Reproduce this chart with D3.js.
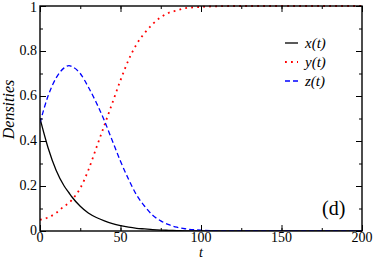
<!DOCTYPE html>
<html>
<head>
<meta charset="utf-8">
<script src="https://cdn.jsdelivr.net/npm/d3@7"></script>
<style>
body { margin: 0; background: #fff; }
svg text { font-family: 'Liberation Serif', 'Times New Roman', 'DejaVu Serif', serif; }
</style>
</head>
<body>
<svg width="374" height="261"></svg>
<script>
// values
var tVals = [0, 5, 10, 15, 18, 20, 25, 30, 35, 40, 45, 50, 55, 60, 65, 70, 75, 80, 85, 90, 100, 110, 120, 150, 200]
var xVals = [0.5, 0.37, 0.27, 0.2, 0.17, 0.15, 0.11, 0.08, 0.06, 0.045, 0.033, 0.024, 0.017, 0.012, 0.009, 0.006, 0.004, 0.003, 0.002, 0.001, 0.0005, 0, 0, 0, 0]
var yVals = [0.05, 0.06, 0.08, 0.11, 0.125, 0.14, 0.19, 0.27, 0.37, 0.47, 0.57, 0.67, 0.76, 0.83, 0.88, 0.92, 0.95, 0.97, 0.98, 0.99, 0.996, 0.999, 1, 1, 1]
var zVals = [0.48, 0.6, 0.68, 0.725, 0.735, 0.73, 0.7, 0.64, 0.57, 0.49, 0.4, 0.31, 0.23, 0.16, 0.11, 0.07, 0.045, 0.028, 0.017, 0.01, 0.004, 0.001, 0, 0, 0]
var seriesNames = ['x(t)', 'y(t)', 'z(t)']
var xTicks = [0, 50, 100, 150, 200]
var yTicks = [0, 0.2, 0.4, 0.6, 0.8, 1]

var svg = d3.select('svg')
var m = {left: 40, right: 12, top: 6, bottom: 30}
var W = 374, H = 261
var x = d3.scaleLinear().domain([0, 200]).range([m.left, W - m.right])
var y = d3.scaleLinear().domain([0, 1]).range([H - m.bottom, m.top])

var styles = [
  {color: '#000', dash: null, width: 1.3},
  {color: '#ff0000', dash: '1.8,4.2', width: 1.8},
  {color: '#0000ff', dash: '5,3', width: 1.3}
]
var all = [xVals, yVals, zVals]

var clip = svg.append('clipPath').attr('id', 'c').append('rect')
  .attr('x', x(0)).attr('y', y(1) - 2).attr('width', x(200) - x(0)).attr('height', y(0) - y(1) + 2)

var line = d3.line()
  .x(function(d) { return x(d[0]) })
  .y(function(d) { return y(d[1]) })
  .curve(d3.curveMonotoneX)

all.forEach(function(vals, i) {
  svg.append('path')
    .datum(tVals.map(function(t, j) { return [t, vals[j]] }))
    .attr('d', line)
    .attr('fill', 'none')
    .attr('stroke', styles[i].color)
    .attr('stroke-width', styles[i].width)
    .attr('stroke-dasharray', styles[i].dash)
    .attr('clip-path', 'url(#c)')
})

// axes with inward ticks on all sides
function tickAxes(axis, tr, size) {
  svg.append('g').attr('transform', tr).call(axis.tickSize(size).tickFormat(''))
    .call(function(g) { g.select('.domain').remove() })
}
var b = y(0), t = y(1), l = x(0), r = x(200)
tickAxes(d3.axisBottom(x).tickValues(d3.range(0, 201, 25)), 'translate(0,' + b + ')', -3)
tickAxes(d3.axisBottom(x).tickValues(xTicks), 'translate(0,' + b + ')', -6)
tickAxes(d3.axisTop(x).tickValues(d3.range(0, 201, 25)), 'translate(0,' + t + ')', -3)
tickAxes(d3.axisTop(x).tickValues(xTicks), 'translate(0,' + t + ')', -6)
tickAxes(d3.axisLeft(y).tickValues(d3.range(0, 1.01, 0.1)), 'translate(' + l + ',0)', -3)
tickAxes(d3.axisLeft(y).tickValues(yTicks), 'translate(' + l + ',0)', -6)
tickAxes(d3.axisRight(y).tickValues(d3.range(0, 1.01, 0.1)), 'translate(' + r + ',0)', -3)
tickAxes(d3.axisRight(y).tickValues(yTicks), 'translate(' + r + ',0)', -6)
svg.selectAll('.tick line').attr('stroke', '#000').attr('stroke-width', 1)

svg.append('rect').attr('x', l).attr('y', t).attr('width', r - l).attr('height', b - t)
  .attr('fill', 'none').attr('stroke', '#000').attr('stroke-width', 1.4)

// tick labels
svg.selectAll('.xl').data(xTicks).enter().append('text')
  .attr('x', function(d) { return x(d) }).attr('y', b + 11)
  .attr('text-anchor', 'middle').attr('font-size', 14)
  .text(function(d) { return d })
svg.selectAll('.yl').data(yTicks).enter().append('text')
  .attr('x', l - 3).attr('y', function(d) { return d == 1 ? y(d) + 6 : y(d) + 4 })
  .attr('text-anchor', 'end').attr('font-size', 14)
  .text(function(d) { return d == 0 ? '0' : d == 1 ? '1' : d3.format('.1f')(d) })

svg.append('text').attr('x', x(100)).attr('y', 257).attr('text-anchor', 'middle')
  .attr('font-size', 14).attr('font-style', 'italic').text('t')
svg.append('text').attr('transform', 'translate(14,' + y(0.54) + ') rotate(-90)')
  .attr('text-anchor', 'middle').attr('font-size', 16)
  .attr('font-style', 'italic').text('Densities')

svg.append('text').attr('x', 322).attr('y', 215).attr('font-size', 20).text('(d)')

// legend
seriesNames.forEach(function(n, i) {
  var ly = 43 + i * 19
  svg.append('line').attr('x1', 285).attr('x2', 298).attr('y1', ly).attr('y2', ly)
    .attr('stroke', styles[i].color).attr('stroke-width', styles[i].width)
    .attr('stroke-dasharray', styles[i].dash)
  svg.append('text').attr('x', 305).attr('y', ly + 5)
    .attr('font-size', 15).attr('font-style', 'italic').text(n)
})
</script>
</body>
</html>
